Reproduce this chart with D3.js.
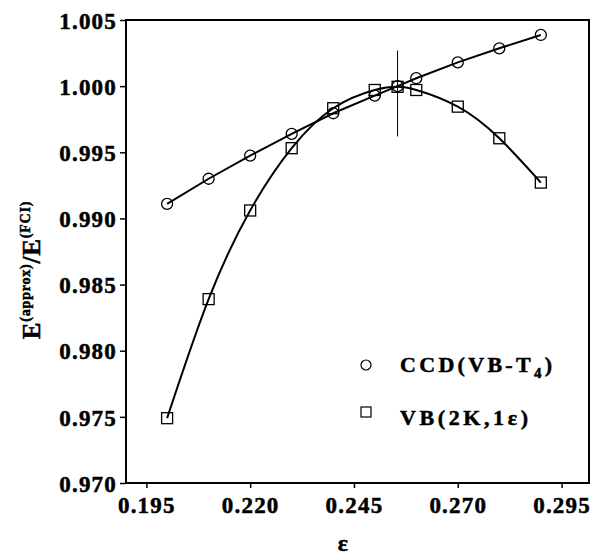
<!DOCTYPE html>
<html>
<head>
<meta charset="utf-8">
<script src="https://cdn.jsdelivr.net/npm/d3@7"></script>
<style>
body { margin: 0; background: #fff; }
svg text { font-family: "Liberation Serif", "DejaVu Serif", serif; font-weight: bold; fill: #000; stroke: #000; stroke-width: 0.5px; }
</style>
</head>
<body>
<svg id="chart" width="591" height="560"></svg>
<script>
//data
var ccdEps = [0.200, 0.210, 0.220, 0.230, 0.240, 0.250, 0.2555, 0.260, 0.270, 0.280, 0.290];
var ccdRatio = [0.9911, 0.9930, 0.99475, 0.99639, 0.99795, 0.99928, 1.0000, 1.0006, 1.0018, 1.00286, 1.00387];
var vbEps = [0.200, 0.210, 0.220, 0.230, 0.240, 0.250, 0.2555, 0.260, 0.270, 0.280, 0.290];
var vbRatio = [0.9749, 0.9839, 0.9906, 0.99531, 0.99833, 0.99971, 0.99995, 0.99971, 0.99845, 0.99606, 0.99271];
var refEps = [0.2555, 0.2555];
var refRatio = [0.9962, 1.0027];
var xTicks = [0.195, 0.220, 0.245, 0.270, 0.295];
var yTicks = [0.970, 0.975, 0.980, 0.985, 0.990, 0.995, 1.000, 1.005];
var seriesNames = ["CCD(VB-T", "VB(2K,1\u03b5)"];

var margin = {top: 20, right: 2, bottom: 77, left: 126},
    width = 591 - margin.left - margin.right,
    height = 560 - margin.top - margin.bottom;

var svg = d3.select("#chart");
var g = svg.append("g").attr("transform", "translate(" + margin.left + "," + margin.top + ")");

var x = d3.scaleLinear().domain([0.1901, 0.3016]).range([0, width]);
var y = d3.scaleLinear().domain([0.970, 1.005]).range([height, 0]);

//axes
var xAxis = d3.axisBottom(x).tickValues(xTicks).tickSize(5).tickPadding(8).tickFormat(d3.format(".3f"));
var yAxis = d3.axisLeft(y).tickValues(yTicks).tickSize(6).tickPadding(3).tickFormat(d3.format(".3f"));

var gx = g.append("g").attr("transform", "translate(0," + height + ")").call(xAxis);
var gy = g.append("g").call(yAxis);

[gx, gy].forEach(function(a)
	{
		a.select(".domain").remove();
		a.selectAll(".tick line").attr("stroke", "#000").attr("stroke-width", 1.5);
		a.selectAll(".tick text").style("font-size", "23px").style("letter-spacing", "1.2px");
	});
gx.selectAll(".tick text").attr("dy", "0.75em");
gy.selectAll(".tick text").attr("dy", "0.36em");

//frame
g.append("rect")
	.attr("x", 0).attr("y", 0)
	.attr("width", width).attr("height", height)
	.attr("fill", "none").attr("stroke", "#000").attr("stroke-width", 2);

//lines
var ccd = ccdEps.map(function(e, i) { return [e, ccdRatio[i]]; });
var vb = vbEps.map(function(e, i) { return [e, vbRatio[i]]; });
var ref = refEps.map(function(e, i) { return [e, refRatio[i]]; });

var straight = d3.line().x(function(d) { return x(d[0]); }).y(function(d) { return y(d[1]); });
var smooth = d3.line().curve(d3.curveNatural).x(function(d) { return x(d[0]); }).y(function(d) { return y(d[1]); });

g.append("path").attr("d", straight(ref)).attr("fill", "none").attr("stroke", "#000").attr("stroke-width", 1);
g.append("path").attr("d", straight(ccd)).attr("fill", "none").attr("stroke", "#000").attr("stroke-width", 2);
g.append("path").attr("d", smooth(vb)).attr("fill", "none").attr("stroke", "#000").attr("stroke-width", 2);

//markers
g.selectAll(".ccd").data(ccd).enter().append("circle")
	.attr("class", "ccd")
	.attr("cx", function(d) { return x(d[0]); })
	.attr("cy", function(d) { return y(d[1]); })
	.attr("r", 5.5)
	.attr("fill", "none").attr("stroke", "#000").attr("stroke-width", 1.3);

g.selectAll(".vb").data(vb).enter().append("rect")
	.attr("class", "vb")
	.attr("x", function(d) { return x(d[0]) - 5.5; })
	.attr("y", function(d) { return y(d[1]) - 5.5; })
	.attr("width", 11).attr("height", 11)
	.attr("fill", "none").attr("stroke", "#000").attr("stroke-width", 1.3);

//legend
svg.append("circle").attr("cx", 366).attr("cy", 365).attr("r", 5)
	.attr("fill", "none").attr("stroke", "#000").attr("stroke-width", 1.2);
var t1 = svg.append("text").attr("x", 400).attr("y", 372)
	.style("font-size", "22px").style("letter-spacing", "3.3px");
t1.append("tspan").text(seriesNames[0]);
t1.append("tspan").attr("dy", 6).style("font-size", "15px").text("4");
t1.append("tspan").attr("dy", -6).text(")");

svg.append("rect").attr("x", 361).attr("y", 407).attr("width", 10).attr("height", 10)
	.attr("fill", "none").attr("stroke", "#000").attr("stroke-width", 1.2);
svg.append("text").attr("x", 400).attr("y", 425)
	.style("font-size", "22px").style("letter-spacing", "3.6px")
	.text(seriesNames[1]);

//axis titles
svg.append("text").attr("x", 343).attr("y", 551).attr("text-anchor", "middle")
	.style("font-size", "24px").text("\u03b5");

var yt = svg.append("text")
	.attr("transform", "translate(40,270) rotate(-90)")
	.attr("text-anchor", "middle")
	.style("font-size", "25px").style("letter-spacing", "0.8px");
yt.append("tspan").text("E");
yt.append("tspan").attr("dy", -10).style("font-size", "14px").text("(approx)");
yt.append("tspan").attr("dy", 10).text("/E");
yt.append("tspan").attr("dy", -10).style("font-size", "14px").text("(FCI)");
</script>
</body>
</html>
